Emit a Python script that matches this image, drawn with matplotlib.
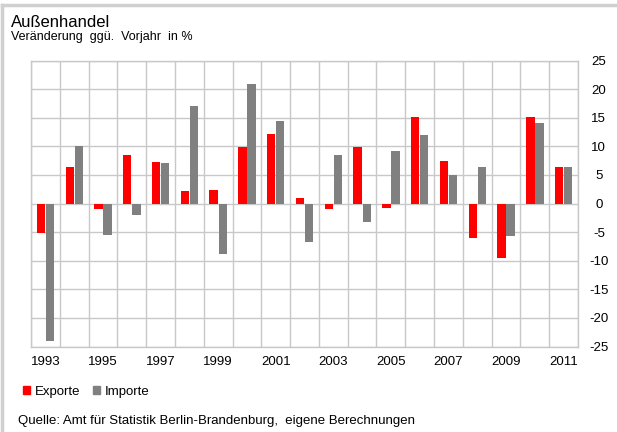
import numpy as np
import matplotlib
matplotlib.use('Agg')
import matplotlib.pyplot as plt
from matplotlib.patches import Patch
from matplotlib.lines import Line2D

plt.rcParams['font.family'] = ['Liberation Sans', 'DejaVu Sans']

years = list(range(1993, 2012))
exporte = [-5.2, 6.4, -0.9, 8.5, 7.3, 2.1, 2.3, 9.8, 12.1, 1.0,
           -1.0, 9.9, -0.7, 15.2, 7.4, -6.0, -9.6, 15.2, 6.4]
importe = [-24.1, 10.0, -5.5, -2.0, 7.0, 17.0, -8.8, 20.9, 14.4, -6.7,
           8.5, -3.2, 9.2, 11.9, 5.0, 6.4, -5.7, 14.1, 6.3]
y_ticks = list(range(-25, 30, 5))

red = '#ff0000'
grey = '#808080'
gridc = '#c8c8c8'

fig = plt.figure(figsize=(6.17, 4.32), dpi=100)
ax = fig.add_axes([31 / 617, 1 - 346.5 / 432, 547 / 617, 286 / 432])

x = np.arange(len(years))
w = 0.29
ax.bar(x - 0.155, exporte, width=w, color=red, zorder=3)
ax.bar(x + 0.16, importe, width=w, color=grey, zorder=3)

ax.set_xlim(-0.5, len(years) - 0.5)
ax.set_ylim(-25, 25)

# grid: horizontal every 5, vertical at category boundaries
for yv in y_ticks:
    ax.axhline(yv, color=gridc, lw=1, zorder=1)
for k in range(len(years) + 1):
    ax.axvline(k - 0.5, color=gridc, lw=1, zorder=1)

ax.set_xticks(x[::2])
ax.set_xticklabels([str(y) for y in years[::2]], fontsize=9.5)
ax.set_yticks(y_ticks)
ax.set_yticklabels([str(v) for v in y_ticks], fontsize=9.5, ha='center')
ax.yaxis.tick_right()
ax.tick_params(axis='both', length=0)
ax.tick_params(axis='x', pad=7)
ax.tick_params(axis='y', pad=15)
for s in ax.spines.values():
    s.set_color(gridc)
    s.set_linewidth(1)

fig.text(11 / 617, 1 - 27 / 432, 'Außenhandel', fontsize=12, va='baseline')
fig.text(11 / 617, 1 - 40 / 432, 'Veränderung  ggü.  Vorjahr  in %', fontsize=9, va='baseline')

handles = [Patch(color=red, label='Exporte'), Patch(color=grey, label='Importe')]
fig.legend(handles=handles, loc='lower left', bbox_to_anchor=(18 / 617, 1 - 403 / 432),
           ncol=2, frameon=False, fontsize=9.5, handlelength=0.5, handleheight=0.5,
           handletextpad=0.35, columnspacing=1.0, borderaxespad=0)

fig.text(18 / 617, 1 - 424 / 432,
         'Quelle: Amt für Statistik Berlin-Brandenburg,  eigene Berechnungen',
         fontsize=9.5, va='baseline')

# outer frame (top and left)
fig.add_artist(Line2D([0.003, 0.003], [0, 0.989], transform=fig.transFigure,
                      color='#d0d0d0', lw=2.5))
fig.add_artist(Line2D([0.003, 0.997], [0.989, 0.989], transform=fig.transFigure,
                      color='#d0d0d0', lw=2.5))

fig.savefig('out.png', dpi=100)
